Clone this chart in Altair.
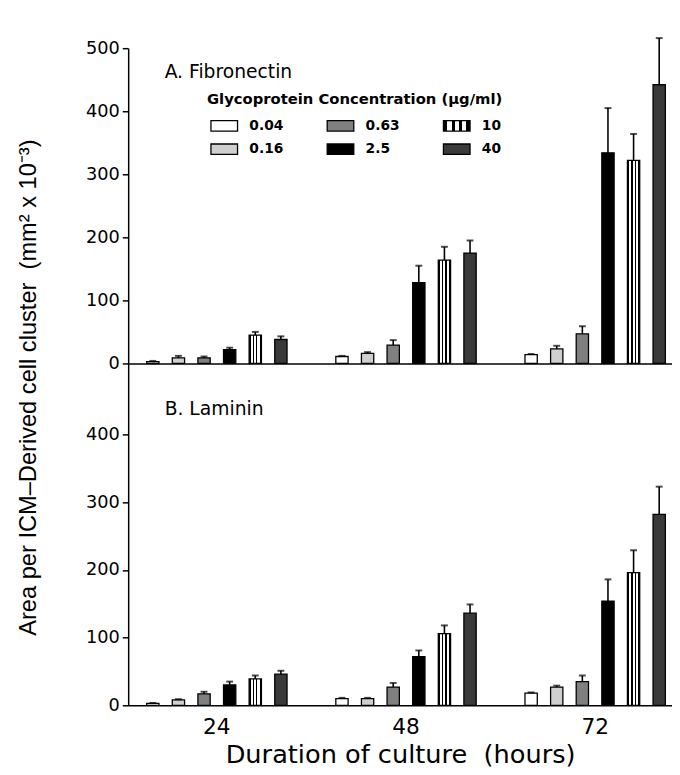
import altair as alt
import pandas as pd

hours = ["24", "48", "72"]
concs = ["0.04", "0.16", "0.63", "2.5", "10", "40"]

# A. Fibronectin (means and upper error, per hour, in concentration order)
fib_24 = [3, 9, 9, 22, 45, 38]
fib_48 = [11, 16, 29, 128, 164, 175]
fib_72 = [14, 23, 47, 334, 322, 442]
fib_24_err = [1, 3, 2, 3, 5, 5]
fib_48_err = [1, 2, 8, 27, 21, 20]
fib_72_err = [1, 5, 12, 71, 42, 74]

# B. Laminin
lam_24 = [3, 8, 17, 30, 39, 46]
lam_48 = [10, 10, 27, 72, 106, 136]
lam_72 = [18, 27, 35, 154, 196, 282]
lam_24_err = [0.5, 1, 3, 5, 5, 5]
lam_48_err = [1, 1, 6, 9, 12, 13]
lam_72_err = [1, 2, 9, 32, 33, 41]

# vertical-stripe fill for the 10 ug/ml series (a Vega linear gradient)
stripe_stops = [(0.0, "black"), (0.14, "black"), (0.14, "white"), (0.32, "white"),
                (0.32, "black"), (0.42, "black"), (0.42, "white"), (0.58, "white"),
                (0.58, "black"), (0.68, "black"), (0.68, "white"), (0.86, "white"),
                (0.86, "black"), (1.0, "black")]
stripe_expr = ("{gradient:'linear',x1:0,y1:0,x2:1,y2:0,stops:["
               + ",".join("{offset:%s,color:'%s'}" % (o, c) for o, c in stripe_stops)
               + "]}")

legend_fills = ["#ffffff", "#cfcfcf", "#808080", "#000000", {"expr": stripe_expr}, "#3a3a3a"]


def make_df(series, errs):
    rows = []
    for h, vals, ers in zip(hours, series, errs):
        for c, v, e in zip(concs, vals, ers):
            rows.append({"hour": h, "conc": c, "mean": v, "hi": v + e})
    return pd.DataFrame(rows)


def panel(df, label, is_top, height, ymax, label_y):
    base = alt.Chart(df)
    if is_top:
        xaxis = alt.Axis(labels=False, ticks=False, title=None, domain=True,
                         domainColor="black", domainWidth=1.5)
        yaxis = alt.Axis(values=[0, 100, 200, 300, 400, 500],
                         title="Area per ICM\u2013Derived cell cluster\u00a0\u00a0(mm\u00b2 x 10\u207b\u00b3)",
                         titleFont="Liberation Sans", titleFontSize=24, titleFontWeight="normal",
                         titleAngle=270, titleX=-101, titleY=344, titleBaseline="middle",
                         titleAlign="center")
        legend = alt.Legend(
            title="Glycoprotein Concentration (\u03bcg/ml)", orient="none",
            legendX=80, legendY=45, columns=3, titleLimit=500,
            symbolType="M-0.6,-0.7H3V0.7H-0.6Z", symbolSize=225,
            symbolStrokeColor="black", symbolStrokeWidth=1.3, symbolOpacity=1,
            titleFont="DejaVu Sans", titleFontSize=15, titleFontWeight="bold",
            titleColor="black", titlePadding=10,
            labelFont="DejaVu Sans", labelFontSize=14, labelFontWeight="bold",
            labelColor="black", labelOffset=26, columnPadding=40, rowPadding=7,
        )
    else:
        xaxis = alt.Axis(title="Duration of culture\u00a0\u00a0(hours)", labelAngle=0,
                         ticks=False, domain=True, domainColor="black", domainWidth=1.5,
                         labelFont="DejaVu Sans", labelFontSize=22, labelPadding=12,
                         titleFont="DejaVu Sans", titleFontSize=26, titleFontWeight="normal",
                         titlePadding=4)
        yaxis = alt.Axis(values=[0, 100, 200, 300, 400], title=None)
        legend = None

    x = alt.X("hour:N", sort=hours,
              scale=alt.Scale(domain=hours, paddingInner=0.1875, paddingOuter=0.03125, align=1),
              axis=xaxis)
    xo = alt.XOffset("conc:N", sort=concs,
                     scale=alt.Scale(domain=concs, paddingInner=0.52, paddingOuter=0.26))
    y = alt.Y("mean:Q", scale=alt.Scale(domain=[0, ymax], nice=False), axis=yaxis)

    bars = base.mark_bar(stroke="black", strokeWidth=1.3).encode(
        x=x, xOffset=xo, y=y,
        fill=alt.Fill("conc:N", scale=alt.Scale(domain=concs, range=legend_fills),
                      legend=legend),
    )
    rules = base.mark_rule(color="black", strokeWidth=1.6).encode(
        x=x, xOffset=xo, y="mean:Q", y2="hi:Q")
    caps = base.mark_tick(color="black", size=7, thickness=2).encode(
        x=x, xOffset=xo, y="hi:Q")
    txt = alt.Chart(pd.DataFrame({"t": [label]})).mark_text(
        align="left", baseline="middle", font="DejaVu Sans", fontSize=19, color="black"
    ).encode(x=alt.value(37), y=alt.value(label_y), text="t:N")

    return alt.layer(bars, rules, caps, txt).properties(width=552, height=height)


top = panel(make_df([fib_24, fib_48, fib_72], [fib_24_err, fib_48_err, fib_72_err]),
            "A. Fibronectin", True, 320, 500, 24)
bottom = panel(make_df([lam_24, lam_48, lam_72], [lam_24_err, lam_48_err, lam_72_err]),
               "B. Laminin", False, 347, 505, 46)

chart = alt.vconcat(top, bottom, spacing=0, bounds="flush").resolve_scale(
    fill="independent", y="independent"
).resolve_legend(fill="independent").properties(
    padding={"left": 9, "top": 23, "right": 0, "bottom": 5}
).configure_view(stroke=None).configure_axis(
    grid=False, domainColor="black", domainWidth=1.5, tickColor="black", tickWidth=1.5,
    tickSize=6, labelColor="black", titleColor="black", labelFont="DejaVu Sans",
    labelFontSize=18, labelPadding=3
)

chart.save("out.html", embed_options={"renderer": "svg", "actions": False})
